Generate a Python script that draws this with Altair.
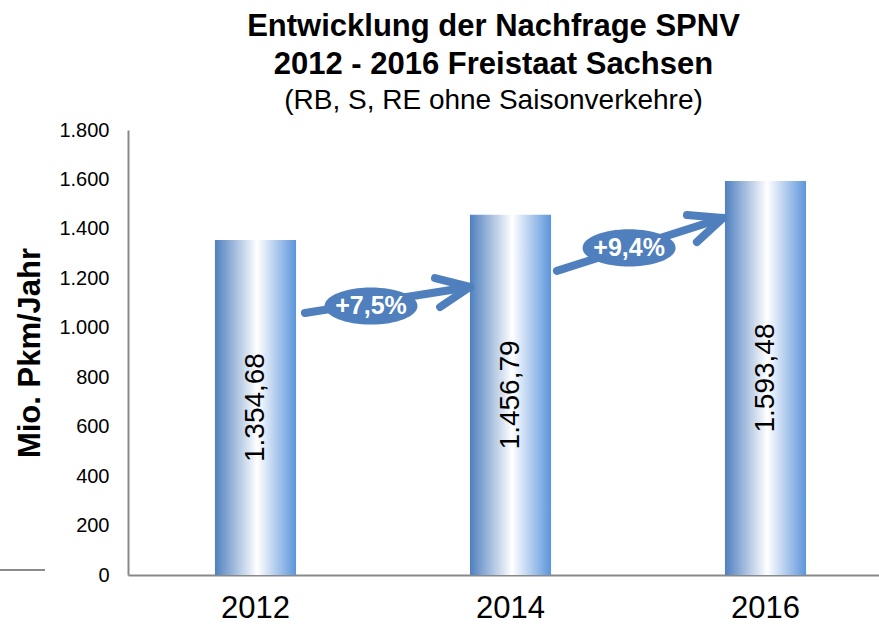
import altair as alt
import pandas as pd

# ---- data ----
years = ["2012", "2014", "2016"]
values = [1354.68, 1456.79, 1593.48]

def de_fmt(v):
    return f"{v:,.2f}".replace(",", "X").replace(".", ",").replace("X", ".")

bar_labels = [de_fmt(v) for v in values]

# growth annotations (x in band units 0..3, y in data units)
growth_labels = ["+7,5%", "+9,4%"]
ell_x = [0.953, 1.965]
ell_y = [1088, 1323]
# arrow segments: shaft + two head arms
seg_x = [0.694, 1.204, 1.224, 1.682, 2.192, 2.231]
seg_y = [1060, 1201, 1084, 1230, 1456, 1347]
seg_x2 = [1.341, 1.341, 1.341, 2.333, 2.333, 2.333]
seg_y2 = [1165, 1165, 1165, 1444, 1444, 1444]

FONT = "Liberation Sans"
BLUE = "#4f80bd"
AXIS_GRAY = "#898989"

bars_df = pd.DataFrame({"year": years, "value": values, "label": bar_labels})
ell_df = pd.DataFrame({"x": ell_x, "y": ell_y, "label": growth_labels})
seg_df = pd.DataFrame({"x": seg_x, "y": seg_y, "x2": seg_x2, "y2": seg_y2})

PLOT_W = 751
BAND_RANGE = [0, 765]

grad = alt.Gradient(
    gradient="linear",
    stops=[
        alt.GradientStop(color="#4f80bf", offset=0),
        alt.GradientStop(color="#ffffff", offset=0.52),
        alt.GradientStop(color="#5c95db", offset=1),
    ],
    x1=0, x2=1, y1=0, y2=0,
)

band_scale = alt.Scale(range=BAND_RANGE, paddingInner=0.682, paddingOuter=0.341)
xband = alt.X(
    "year:N",
    scale=band_scale,
    axis=alt.Axis(
        title=None, labelAngle=0, labelFontSize=31, labelFont=FONT, labelColor="black",
        ticks=False, labelPadding=18, domainColor=AXIS_GRAY, domainWidth=2,
    ),
)
yval = alt.Y(
    "value:Q",
    scale=alt.Scale(domain=[0, 1800]),
    axis=alt.Axis(
        title="Mio. Pkm/Jahr", titleFontSize=31, titleFont=FONT, titleFontWeight="bold",
        titleColor="black", titlePadding=12,
        values=list(range(0, 1801, 200)),
        labelExpr="replace(format(datum.value, ',d'), ',', '.')",
        labelFontSize=20, labelFont=FONT, labelColor="black", labelPadding=19,
        ticks=False, grid=False, domainColor=AXIS_GRAY, domainWidth=2,
    ),
)

bars = alt.Chart(bars_df).mark_bar(fill=grad).encode(x=xband, y=yval)

bar_text = (
    alt.Chart(bars_df)
    .transform_calculate(mid="datum.value / 2")
    .mark_text(angle=270, fontSize=28, font=FONT, color="black", baseline="middle", align="center")
    .encode(x=alt.X("year:N", scale=band_scale, axis=None), y=alt.Y("mid:Q"), text="label:N")
)

xq = alt.X("x:Q", scale=alt.Scale(domain=[0, 3], range=BAND_RANGE), axis=None)

arrows = (
    alt.Chart(seg_df)
    .mark_rule(color=BLUE, strokeWidth=8, strokeCap="round")
    .encode(x=xq, y=alt.Y("y:Q"), x2="x2:Q", y2="y2:Q")
)

ELLIPSE = "M -1 0 A 1 0.4 0 1 1 1 0 A 1 0.4 0 1 1 -1 0 Z"
ellipses = (
    alt.Chart(ell_df)
    .mark_point(shape=ELLIPSE, size=93 * 93, filled=True, opacity=1, color=BLUE)
    .encode(x=xq, y=alt.Y("y:Q"))
)
ell_text = (
    alt.Chart(ell_df)
    .mark_text(fontSize=25, fontWeight="bold", font=FONT, color="white", baseline="middle", align="center")
    .encode(x=xq, y=alt.Y("y:Q"), text="label:N")
)

stray = (
    alt.Chart(alt.Data(values=[{}]))
    .mark_rule(color="#8c8c8c", strokeWidth=2)
    .encode(x=alt.value(-128), x2=alt.value(-83), y=alt.value(440))
)

chart = (
    alt.layer(bars, bar_text, arrows, ellipses, ell_text, stray)
    .resolve_scale(x="independent")
    .properties(
        width=PLOT_W,
        height=445,
        autosize=alt.AutoSizeParams(type="none"),
        padding={"left": 128, "top": 130, "right": 0, "bottom": 52},
        title=alt.Title(
            ["Entwicklung der Nachfrage SPNV", "2012 - 2016 Freistaat Sachsen"],
            subtitle="(RB, S, RE ohne Saisonverkehre)",
            font=FONT, fontSize=31, fontWeight="bold", color="black", lineHeight=38,
            subtitleFont=FONT, subtitleFontSize=28, subtitleColor="black",
            subtitlePadding=6, anchor="middle", offset=4, dx=-10,
        ),
    )
    .configure_view(stroke=None)
)

chart.save("out.html", embed_options={"renderer": "svg", "actions": False})
